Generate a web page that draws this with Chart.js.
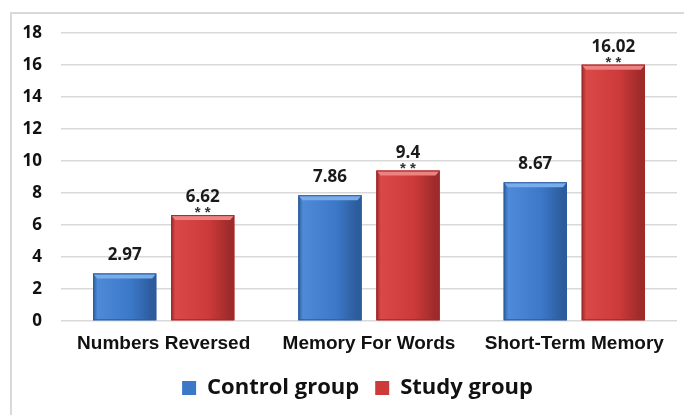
<!DOCTYPE html>
<html>
<head>
<meta charset="utf-8">
<script src="https://cdn.jsdelivr.net/npm/chart.js@4"></script>
<style>
    body { margin: 0; background: #fff; }
    #frame { position: absolute; left: 10px; top: 12px; width: 700px; height: 420px; border: 2px solid #d9d9d9; }
    #wrap { position: absolute; left: 0; top: 0; width: 684px; height: 415px; }
</style>
</head>
<body>
<div id="frame"></div>
<div id="wrap"><canvas id="chart"></canvas></div>
<script>
const categories = ['Numbers Reversed', 'Memory For Words', 'Short-Term Memory'];
const controlValues = [2.97, 7.86, 8.67];
const studyValues = [6.62, 9.4, 16.02];
const studyMarks = ['**', '**', '**'];
const yTicks = [0, 2, 4, 6, 8, 10, 12, 14, 16, 18];

const shades = [
    { base: '#3c78c8', light: '#4f8ad8', dark: '#2c5c9c', top: '#78acea' },
    { base: '#cc3a3a', light: '#da4848', dark: '#9e2a2a', top: '#ec8282' }
];

// Bevel / gradient shading drawn over each bar using the bar element's geometry
const shadePlugin = {
    id: 'shade',
    afterDatasetDraw(chart, args) {
        const ctx = chart.ctx;
        const s = shades[args.index];
        args.meta.data.forEach(bar => {
            const w = bar.width, x0 = bar.x - w / 2, x1 = bar.x + w / 2;
            const y0 = bar.y, y1 = bar.base;
            const g = ctx.createLinearGradient(x0, 0, x1, 0);
            g.addColorStop(0, s.dark);
            g.addColorStop(0.07, s.light);
            g.addColorStop(0.6, s.base);
            g.addColorStop(0.93, s.dark);
            g.addColorStop(1, s.dark);
            ctx.save();
            ctx.fillStyle = g;
            ctx.fillRect(x0, y0, w, y1 - y0);
            // top bevel
            ctx.fillStyle = s.top;
            ctx.beginPath();
            ctx.moveTo(x0, y0);
            ctx.lineTo(x1, y0);
            ctx.lineTo(x1 - 4, y0 + 5);
            ctx.lineTo(x0 + 4, y0 + 5);
            ctx.closePath();
            ctx.fill();
            ctx.strokeStyle = s.dark;
            ctx.lineWidth = 1;
            ctx.strokeRect(x0 + 0.5, y0 + 0.5, w - 1, y1 - y0 - 1);
            ctx.restore();
        });
    }
};

const labelPlugin = {
    id: 'valueLabels',
    afterDatasetsDraw(chart) {
        const ctx = chart.ctx;
        ctx.save();
        ctx.textAlign = 'center';
        ctx.textBaseline = 'alphabetic';
        chart.data.datasets.forEach((ds, i) => {
            chart.getDatasetMeta(i).data.forEach((bar, j) => {
                ctx.fillStyle = '#1a1a1a';
                ctx.font = 'bold 17px "Open Sans"';
                ctx.fillText(String(ds.data[j]), bar.x, bar.y - 13);
                if (i === 1) {
                    ctx.font = 'bold 15px "Liberation Sans"';
                    ctx.fillStyle = '#333';
                    ctx.fillText(studyMarks[j].split('').join(' '), bar.x, bar.y + 2);
                }
            });
        });
        ctx.restore();
    }
};

// legend in the original sits a little right of centre
const legendShift = {
    id: 'legendShift',
    afterLayout(chart) {
        chart.legend.left += 14;
        chart.legend.right += 14;
    }
};

new Chart(document.getElementById('chart'), {
    type: 'bar',
    data: {
        labels: categories,
        datasets: [
            { label: 'Control group', data: controlValues, backgroundColor: shades[0].base },
            { label: 'Study group', data: studyValues, backgroundColor: shades[1].base }
        ]
    },
    options: {
        responsive: true,
        maintainAspectRatio: false,
        animation: false,
        categoryPercentage: 0.76,
        barPercentage: 0.81,
        layout: { padding: { left: 10, right: 7, top: 33, bottom: 6 } },
        plugins: {
            legend: {
                position: 'bottom',
                labels: {
                    color: '#111',
                    font: { family: 'Open Sans', size: 22, weight: 'bold' },
                    boxWidth: 14,
                    boxHeight: 14,
                    padding: 16
                }
            },
            tooltip: { enabled: false }
        },
        scales: {
            x: {
                grid: { display: false },
                border: { display: false },
                ticks: {
                    color: '#111',
                    padding: 3,
                    font: { family: 'Liberation Sans', size: 19, weight: 'bold' }
                },
                afterFit(scale) { scale.height = 40; }
            },
            y: {
                min: 0,
                max: 18,
                afterBuildTicks(scale) { scale.ticks = yTicks.map(v => ({ value: v })); },
                grid: { color: '#d9d9d9', lineWidth: 1.5, drawTicks: false },
                border: { display: false },
                ticks: {
                    color: '#111',
                    padding: 19,
                    font: { family: 'Open Sans', size: 17, weight: 'bold' }
                },
                afterFit(scale) { scale.width = 51; }
            }
        }
    },
    plugins: [shadePlugin, labelPlugin, legendShift]
});
</script>
</body>
</html>
